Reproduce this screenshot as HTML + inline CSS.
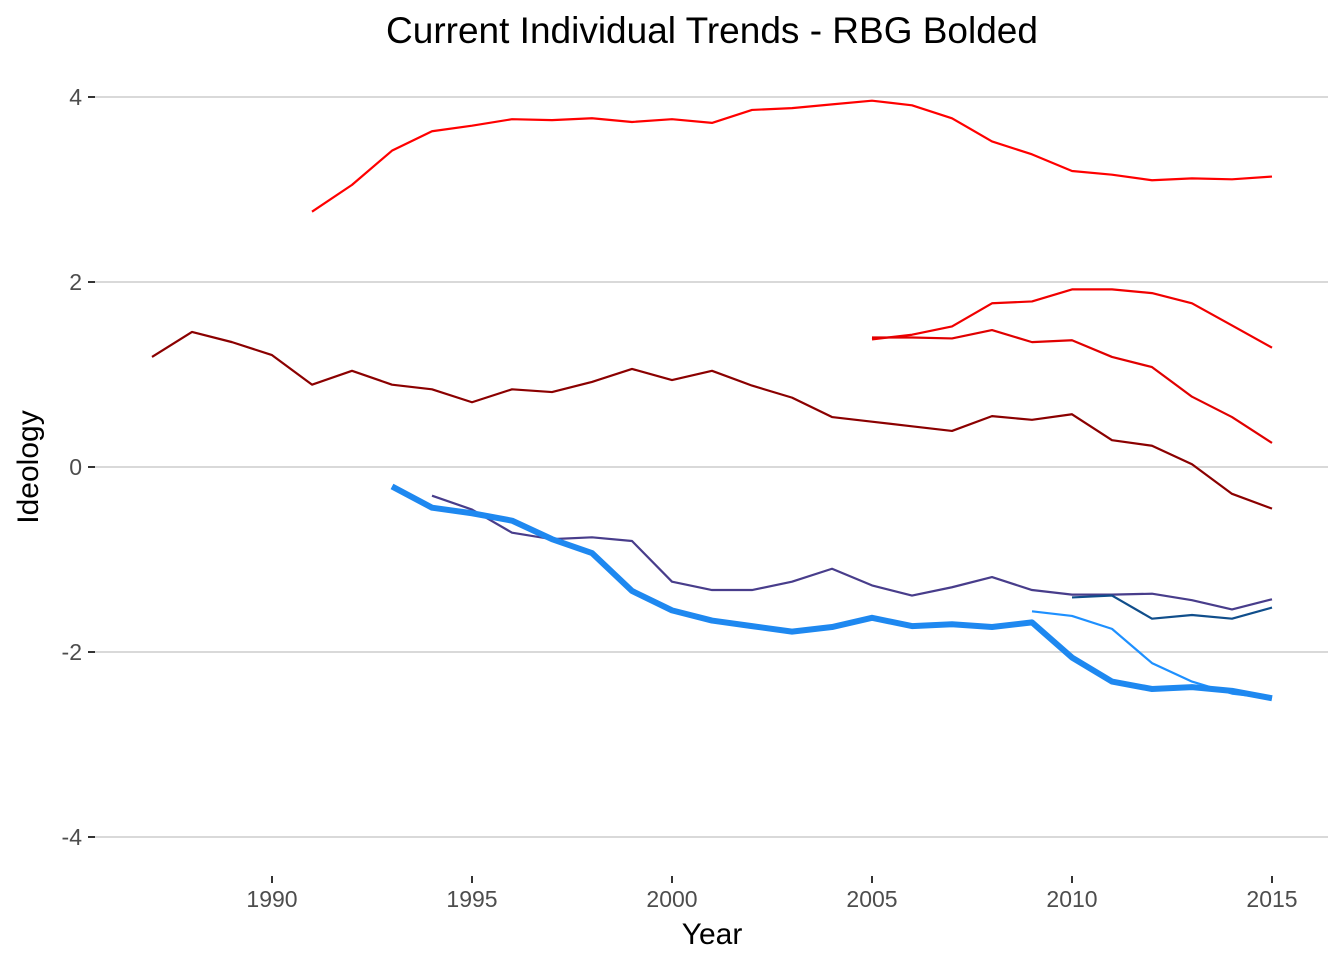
<!DOCTYPE html>
<html><head><meta charset="utf-8"><style>
html,body{margin:0;padding:0;background:#fff;}
svg{display:block;font-family:"Liberation Sans",Arial,sans-serif;}
</style></head><body>
<svg id="chart" width="1344" height="960">
<text x="712" y="43" text-anchor="middle" font-size="37" fill="#000">Current Individual Trends - RBG Bolded</text>
<g id="grid"></g>
<g id="yaxis"></g>
<g id="xaxis"></g>
<g id="series"></g>
<text x="712" y="944" text-anchor="middle" font-size="30" fill="#000">Year</text>
<text transform="translate(38,467) rotate(-90)" text-anchor="middle" font-size="30" fill="#000">Ideology</text>
</svg>
<script>
const xTicks=[1990,1995,2000,2005,2010,2015];
const yTicks=[4,2,0,-2,-4];
const yTickLabels=["4","2","0","-2","-4"];
const topRedYears=[1991,1992,1993,1994,1995,1996,1997,1998,1999,2000,2001,2002,2003,2004,2005,2006,2007,2008,2009,2010,2011,2012,2013,2014,2015];
const topRedVals=[2.76,3.05,3.42,3.63,3.69,3.76,3.75,3.77,3.73,3.76,3.72,3.86,3.88,3.92,3.96,3.91,3.77,3.52,3.38,3.20,3.16,3.10,3.12,3.11,3.14];
const red2Years=[2005,2006,2007,2008,2009,2010,2011,2012,2013,2014,2015];
const red2Vals=[1.38,1.43,1.52,1.77,1.79,1.92,1.92,1.88,1.77,1.53,1.29];
const red3Years=[2005,2006,2007,2008,2009,2010,2011,2012,2013,2014,2015];
const red3Vals=[1.40,1.40,1.39,1.48,1.35,1.37,1.19,1.08,0.76,0.54,0.26];
const darkRedYears=[1987,1988,1989,1990,1991,1992,1993,1994,1995,1996,1997,1998,1999,2000,2001,2002,2003,2004,2005,2006,2007,2008,2009,2010,2011,2012,2013,2014,2015];
const darkRedVals=[1.19,1.46,1.35,1.21,0.89,1.04,0.89,0.84,0.70,0.84,0.81,0.92,1.06,0.94,1.04,0.88,0.75,0.54,0.49,0.44,0.39,0.55,0.51,0.57,0.29,0.23,0.03,-0.29,-0.45];
const purpleYears=[1994,1995,1996,1997,1998,1999,2000,2001,2002,2003,2004,2005,2006,2007,2008,2009,2010,2011,2012,2013,2014,2015];
const purpleVals=[-0.31,-0.46,-0.71,-0.78,-0.76,-0.80,-1.24,-1.33,-1.33,-1.24,-1.10,-1.28,-1.39,-1.30,-1.19,-1.33,-1.38,-1.38,-1.37,-1.44,-1.54,-1.43];
const darkBlueYears=[2010,2011,2012,2013,2014,2015];
const darkBlueVals=[-1.41,-1.39,-1.64,-1.60,-1.64,-1.52];
const lightBlueYears=[2009,2010,2011,2012,2013,2014,2015];
const lightBlueVals=[-1.56,-1.61,-1.75,-2.12,-2.32,-2.45,-2.50];
const rbgYears=[1993,1994,1995,1996,1997,1998,1999,2000,2001,2002,2003,2004,2005,2006,2007,2008,2009,2010,2011,2012,2013,2014,2015];
const rbgVals=[-0.21,-0.44,-0.50,-0.58,-0.78,-0.93,-1.34,-1.55,-1.66,-1.72,-1.78,-1.73,-1.63,-1.72,-1.70,-1.73,-1.68,-2.06,-2.32,-2.40,-2.38,-2.42,-2.50];

const NS="http://www.w3.org/2000/svg";
const xs=y=>272+(y-1990)*40;
const ys=v=>467-v*92.5;
function mk(t,a,p){const e=document.createElementNS(NS,t);for(const k in a)e.setAttribute(k,a[k]);p.appendChild(e);return e;}
const grid=document.getElementById('grid'),ya=document.getElementById('yaxis'),xa=document.getElementById('xaxis'),ser=document.getElementById('series');
yTicks.forEach((v,i)=>{
 const g=mk('line',{x1:95,x2:1328,y1:ys(v),y2:ys(v),stroke:'#d9d9d9','stroke-width':2},grid);
 
 
 const t=mk('line',{x1:88,x2:95,y1:ys(v),y2:ys(v),stroke:'#333','stroke-width':2},ya);
 
 
 const l=mk('text',{x:82,y:ys(v)+8,'text-anchor':'end','font-size':23,fill:'#4d4d4d'},ya);
 l.textContent=yTickLabels[i];
 
 
});
xTicks.forEach(y=>{
 const t=mk('line',{x1:xs(y),x2:xs(y),y1:876,y2:883,stroke:'#333','stroke-width':2},xa);
 
 
 const l=mk('text',{x:xs(y),y:907,'text-anchor':'middle','font-size':23,fill:'#4d4d4d'},xa);
 l.textContent=y;
 
 
});
function line(yrs,vals,color,w,name){
 const p=mk('polyline',{points:yrs.map((y,i)=>xs(y)+','+ys(vals[i])).join(' '),fill:'none',stroke:color,'stroke-width':w,'stroke-linejoin':'round'},ser);
 
 
}
line(topRedYears,topRedVals,'#ff0000',2.2,'line-red-top');
line(red2Years,red2Vals,'#f00000',2.2,'line-red-2');
line(red3Years,red3Vals,'#e00000',2.2,'line-red-3');
line(darkRedYears,darkRedVals,'#8b0000',2.2,'line-dark-red');
line(purpleYears,purpleVals,'#483d8b',2.2,'line-purple');
line(darkBlueYears,darkBlueVals,'#104e8b',2.2,'line-dark-blue');
line(lightBlueYears,lightBlueVals,'#1e90ff',2.2,'line-light-blue');
line(rbgYears,rbgVals,'#1e88f0',6,'line-rbg-bold');
</script>
</body></html>
